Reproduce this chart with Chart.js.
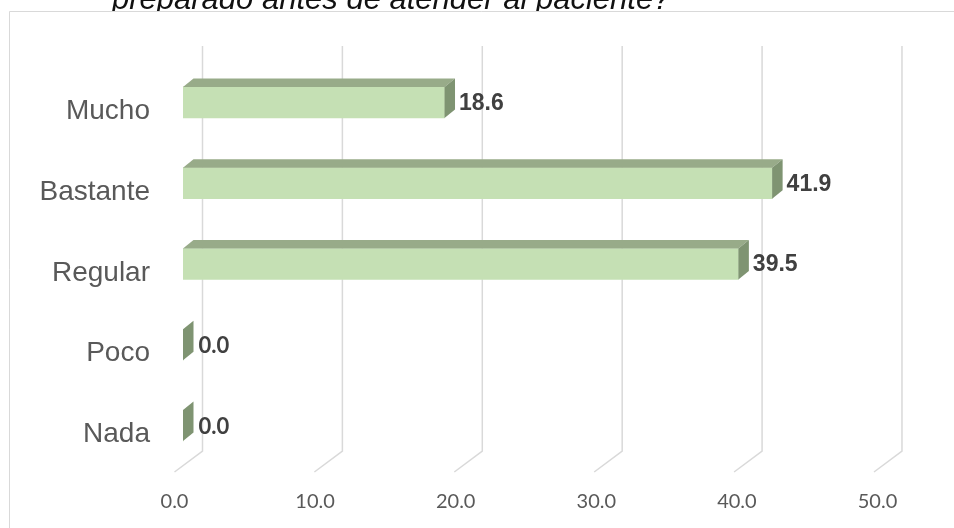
<!DOCTYPE html>
<html>
<head>
<meta charset="utf-8">
<script src="https://cdn.jsdelivr.net/npm/chart.js@4.4.1/dist/chart.umd.min.js"></script>
<style>
  body { margin: 0; background: #fff; }
  #wrap { width: 954px; height: 528px; position: relative; }
</style>
</head>
<body>
<div id="wrap"><canvas id="chart"></canvas></div>
<script>
const titleText = 'preparado antes de atender al paciente?';
const categories = ['Mucho', 'Bastante', 'Regular', 'Poco', 'Nada'];
const percentages = [18.6, 41.9, 39.5, 0.0, 0.0];
const tickValues = [0, 10, 20, 30, 40, 50];
const tickLabels = ['0.0', '10.0', '20.0', '30.0', '40.0', '50.0'];

// depth of the fake 3d bars
const DX = 10.5, DY = 8.5;

const frame3d = {
  id: 'frame3d',
  beforeDraw(c) {
    const ctx = c.ctx;
    ctx.save();
    // title sits behind the chart box, only its bottom shows
    ctx.fillStyle = '#111';
    ctx.font = 'italic 31px "Liberation Sans", Arial';
    ctx.textBaseline = 'alphabetic';
    ctx.fillText(titleText, 112, 9);
    ctx.fillStyle = '#fff';
    ctx.fillRect(9.5, 11, c.width, c.height);
    ctx.strokeStyle = '#D9D9D9';
    ctx.lineWidth = 1;
    ctx.beginPath();
    ctx.moveTo(9.5, c.height);
    ctx.lineTo(9.5, 11.5);
    ctx.lineTo(c.width, 11.5);
    ctx.stroke();
    ctx.restore();
  },
  beforeDatasetsDraw(c) {
    const ctx = c.ctx, xs = c.scales.x;
    ctx.save();
    ctx.strokeStyle = '#D9D9D9';
    ctx.lineWidth = 1.5;
    ctx.fillStyle = '#595959';
    ctx.font = '20px Lato';
    ctx.textAlign = 'center';
    ctx.textBaseline = 'alphabetic';
    tickValues.forEach((v, i) => {
      const px = xs.getPixelForValue(v);
      const gx = 202.5 + (px - xs.left) * 0.995;
      ctx.beginPath();
      ctx.moveTo(gx, 46);
      ctx.lineTo(gx, 451);
      ctx.lineTo(gx - 28, 472);
      ctx.stroke();
      ctx.fillText(tickLabels[i], px - 8.5, 508);
    });
    // category labels
    const ys = c.scales.y;
    ctx.font = '28px "Liberation Sans", Arial';
    ctx.textAlign = 'right';
    categories.forEach((lab, i) => {
      ctx.fillText(lab, 150, ys.getPixelForValue(i) + 16.5);
    });
    ctx.restore();
  },
  afterDatasetsDraw(c) {
    const ctx = c.ctx;
    const meta = c.getDatasetMeta(0);
    ctx.save();
    meta.data.forEach((bar, i) => {
      const p = bar.getProps(['x', 'y', 'base', 'height'], true);
      const top = p.y - p.height / 2, bot = p.y + p.height / 2;
      // top face
      if (p.x > p.base) {
        ctx.fillStyle = '#98AB89';
        ctx.beginPath();
        ctx.moveTo(p.base, top);
        ctx.lineTo(p.base + DX, top - DY);
        ctx.lineTo(p.x + DX, top - DY);
        ctx.lineTo(p.x, top);
        ctx.closePath();
        ctx.fill();
      }
      // right face
      ctx.fillStyle = '#7F9472';
      ctx.beginPath();
      ctx.moveTo(p.x, top);
      ctx.lineTo(p.x + DX, top - DY);
      ctx.lineTo(p.x + DX, bot - DY);
      ctx.lineTo(p.x, bot);
      ctx.closePath();
      ctx.fill();
      // value label
      const v = percentages[i];
      ctx.fillStyle = '#404040';
      ctx.textAlign = 'left';
      ctx.textBaseline = 'middle';
      if (v === 0) {
        ctx.font = 'bold 22px Lato';
        ctx.fillText(v.toFixed(1), p.x + DX + 5, p.y + 1);
      } else {
        ctx.font = 'bold 23px "Liberation Sans", Arial';
        ctx.fillText(v.toFixed(1), p.x + DX + 4, p.y + 1);
      }
    });
    ctx.restore();
  }
};

new Chart(document.getElementById('chart'), {
  type: 'bar',
  data: {
    labels: categories,
    datasets: [{
      data: percentages,
      backgroundColor: '#C5E0B4',
      borderWidth: 0,
      barThickness: 31
    }]
  },
  options: {
    indexAxis: 'y',
    responsive: true,
    maintainAspectRatio: false,
    animation: false,
    layout: { padding: { left: 183, right: 68, top: 62, bottom: 62 } },
    plugins: { legend: { display: false }, tooltip: { enabled: false } },
    scales: {
      x: {
        display: false,
        min: 0,
        max: 50,
        afterBuildTicks: (s) => { s.ticks = tickValues.map(v => ({ value: v })); }
      },
      y: { display: false }
    }
  },
  plugins: [frame3d]
});
</script>
</body>
</html>
